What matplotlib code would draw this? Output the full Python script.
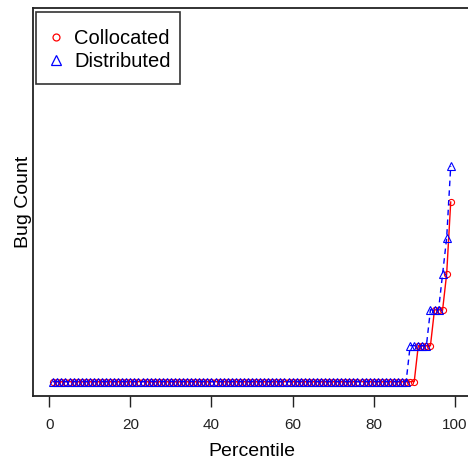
import matplotlib
matplotlib.use("Agg")
import matplotlib.pyplot as plt
from matplotlib.lines import Line2D
from matplotlib.patches import Rectangle

plt.rcParams['font.family'] = ['Liberation Sans', 'DejaVu Sans']

percentile = list(range(1, 100))
collocated = [0] * 90 + [1, 1, 1, 1, 2, 2, 2, 3, 5]
distributed = [0] * 88 + [1, 1, 1, 1, 1, 2, 2, 2, 3, 4, 6]
xticks = [0, 20, 40, 60, 80, 100]

W, H = 468, 461
fig = plt.figure(figsize=(W / 100, H / 100), dpi=100)
ax = fig.add_axes([33 / W, 1 - 396 / H, (471 - 33) / W, (396 - 8) / H])

ax.plot(percentile, collocated, color='#FF0000', lw=1.0, ls='-',
        marker='o', ms=4.4, mfc='none', mec='#FF0000', mew=0.8)
ax.plot(percentile, distributed, color='#0000FF', lw=1.0, ls=(0, (4, 3)),
        marker='^', ms=5.4, mfc='none', mec='#0000FF', mew=0.8)

ax.set_xlim(-4, 104)
ax.set_ylim(-0.4, 10.4)
ax.set_xticks(xticks)
ax.set_xticklabels([str(t) for t in xticks], fontsize=11, color='#222222')
ax.set_yticks([])
ax.tick_params(axis='x', direction='out', length=8, width=1, pad=8, color='#222222')
for s in ax.spines.values():
    s.set_linewidth(1.3)
    s.set_color('#222222')
ax.spines['right'].set_visible(False)

ax.set_xlabel('Percentile', fontsize=14, labelpad=8)
ax.set_ylabel('Bug Count', fontsize=14, labelpad=1)

# legend box
fig.patches.append(Rectangle((36 / W, 1 - 84 / H), (180 - 36) / W, (84 - 12) / H,
                             transform=fig.transFigure, fill=True, facecolor='white',
                             edgecolor='#333333', lw=1.2, zorder=5))

handles = [
    Line2D([], [], ls='none', marker='o', ms=5, mfc='none', mec='#FF0000', mew=0.9, label='Collocated'),
    Line2D([], [], ls='none', marker='^', ms=6.5, mfc='none', mec='#0000FF', mew=0.9, label='Distributed'),
]
leg = fig.legend(handles=handles, loc='center left', bbox_to_anchor=(48 / W, 1 - 50 / H),
                 bbox_transform=fig.transFigure,
                 fontsize=14.5, frameon=False, borderpad=0, handlelength=0.8,
                 handletextpad=0.5, labelspacing=0.18, borderaxespad=0)
leg.set_zorder(6)

fig.savefig('out.png', dpi=100)
